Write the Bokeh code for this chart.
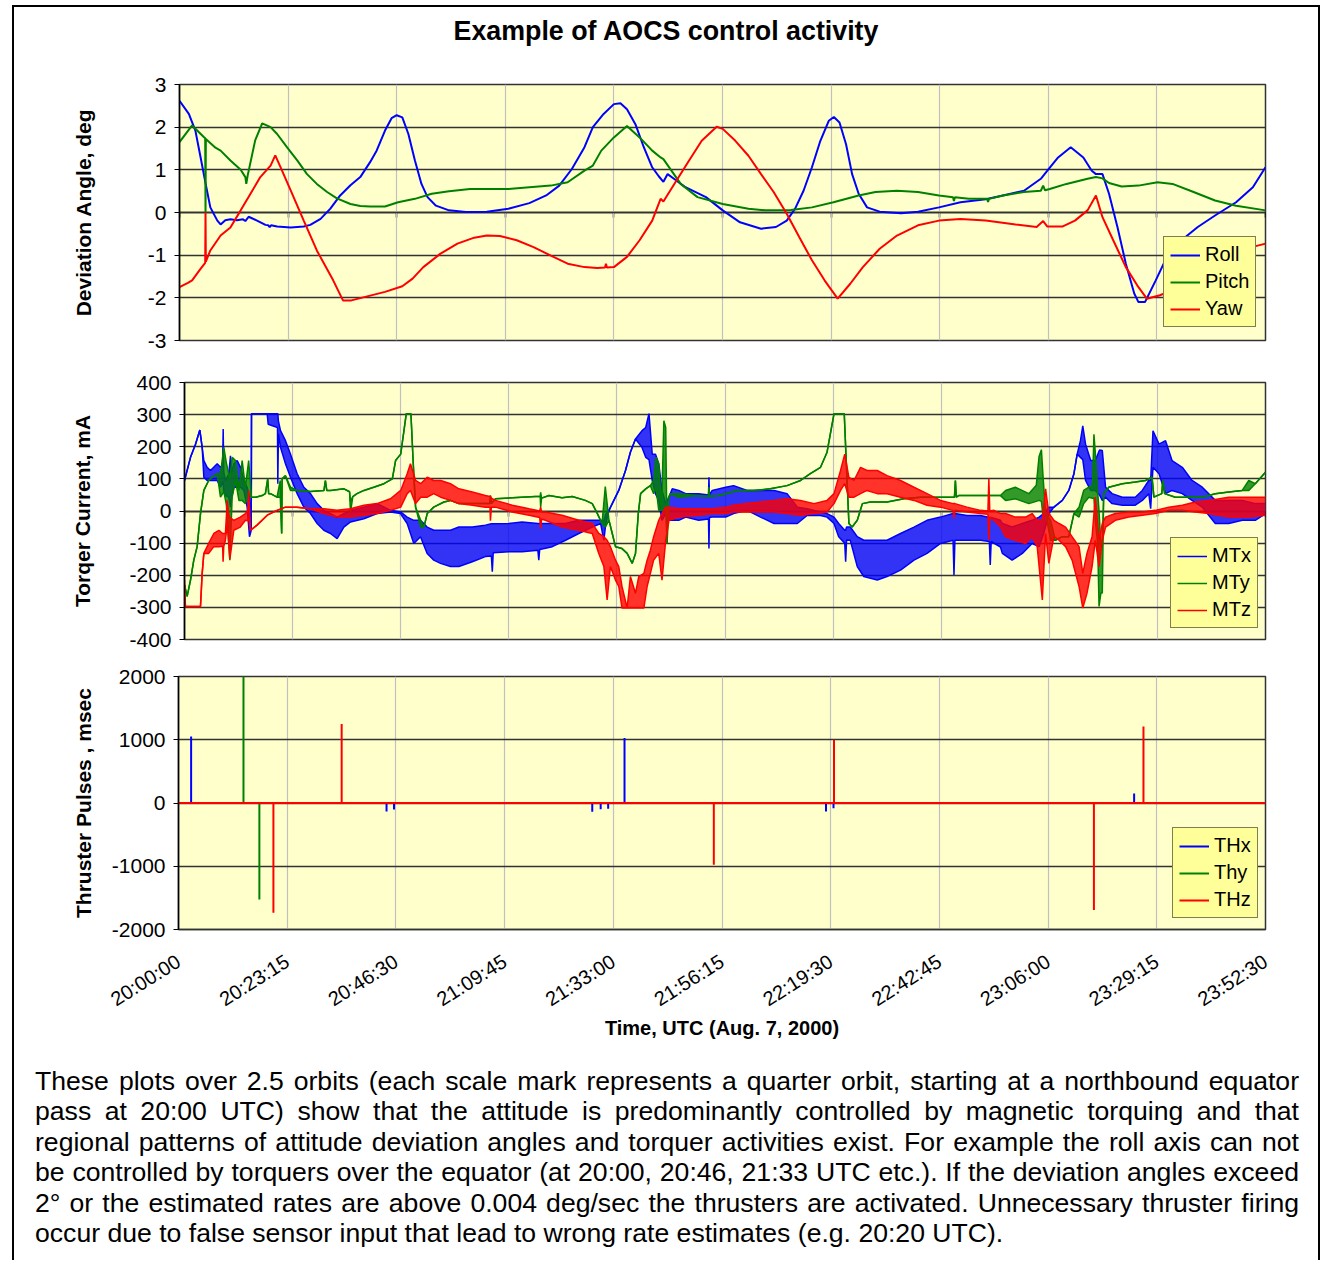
import numpy as np
from bokeh.plotting import figure
from bokeh.models import (Range1d, FixedTicker, CustomJSTickFormatter, Legend,
                          LegendItem, Div)
from bokeh.layouts import column
from bokeh.embed import file_html
from bokeh.resources import INLINE

# ---------------------------------------------------------------- data
TITLE = "Example of AOCS control activity"
X_LABEL = "Time, UTC (Aug. 7, 2000)"
Y_LABELS = ["Deviation Angle, deg", "Torqer Current, mA", "Thruster Pulses , msec"]
TIME_TICK_LABELS = ["20:00:00", "20:23:15", "20:46:30", "21:09:45", "21:33:00", "21:56:15",
                    "22:19:30", "22:42:45", "23:06:00", "23:29:15", "23:52:30"]
QUARTER_ORBIT_MIN = 23.25          # minutes between tick marks
TIME_END_MIN = 232.5

# --- deviation angles (minutes after 20:00, deg)
ROLL_T = [0, 2.0, 3.4, 4.5, 5.6, 6.6, 8.1, 8.8, 9.8, 10.9, 12.3, 13.6, 14.1, 14.8, 16.6, 18.4, 19.0,
          19.3, 19.6, 20.9, 23.8, 26.6, 28.0, 30.2, 32.3, 34.4, 36.6, 38.7, 40.8, 42.2, 44.0, 45.4,
          46.5, 47.7, 49.0, 50.4, 51.8, 53.1, 54.9, 57.7, 61.3, 65.8, 70.4, 74.9, 78.5, 81.3, 84.0,
          86.7, 88.5, 90.8, 93.0, 94.4, 95.8, 97.6, 99.4, 101.2, 102.6, 103.6, 104.5, 106.0, 108.2,
          112.7, 116.3, 120.0, 124.5, 127.7, 130.0, 131.8, 133.6, 135.4, 137.2, 139.0, 140.1, 141.3,
          142.7, 144.0, 145.4, 147.2, 149.9, 154.5, 158.1, 162.6, 167.2, 172.6, 176.3, 180.8, 184.4,
          185.8, 188.1, 190.8, 193.5, 195.3, 196.2, 197.6, 199.0, 200.8, 202.6, 204.4, 205.3, 206.7,
          209.0, 211.7, 215.3, 218.0, 221.7, 226.2, 229.8, 232.5]
ROLL_V = [2.62, 2.31, 1.92, 1.30, 0.67, 0.12, -0.19, -0.28, -0.18, -0.16, -0.18, -0.16, -0.20, -0.10,
          -0.19, -0.29, -0.30, -0.34, -0.30, -0.33, -0.35, -0.33, -0.29, -0.15, 0.09, 0.40, 0.64, 0.83,
          1.18, 1.45, 1.92, 2.21, 2.28, 2.23, 1.84, 1.22, 0.67, 0.36, 0.16, 0.05, 0.01, 0.02, 0.09,
          0.22, 0.40, 0.63, 1.02, 1.53, 2.00, 2.31, 2.54, 2.56, 2.42, 2.07, 1.53, 1.06, 0.85, 0.72,
          0.90, 0.78, 0.60, 0.36, 0.05, -0.23, -0.38, -0.34, -0.19, 0.09, 0.51, 1.06, 1.68, 2.15,
          2.24, 2.11, 1.60, 0.90, 0.44, 0.12, 0.02, -0.02, 0.02, 0.12, 0.24, 0.31, 0.40, 0.51, 0.79,
          0.98, 1.29, 1.53, 1.29, 0.98, 0.90, 0.90, 0.44, -0.34, -1.20, -1.90, -2.10, -2.10, -1.59,
          -0.97, -0.58, -0.34, -0.07, 0.24, 0.59, 1.06]

PITCH_T = [0, 2.7, 5.2, 5.5, 5.57, 5.64, 7.7, 8.8, 10.9, 13.1, 14.1, 14.3, 14.6, 16.2, 17.7, 19.5,
           20.9, 23.0, 25.2, 27.3, 29.4, 31.6, 33.7, 36.6, 38.7, 40.8, 44.0, 46.8, 50.4, 54.0, 57.7,
           62.2, 70.4, 74.9, 79.5, 83.1, 86.7, 88.5, 90.3, 93.0, 95.8, 98.5, 101.2, 103.0, 103.6,
           107.3, 110.9, 116.3, 121.8, 125.4, 130.9, 135.4, 140.0, 145.4, 149.0, 153.6, 158.1, 162.6,
           165.6, 165.8, 166.0, 169.0, 172.9, 173.1, 173.3, 176.3, 180.8, 184.4, 184.9, 185.3, 186.3,
           189.9, 194.4, 196.2, 197.6, 199.0, 201.7, 205.3, 209.4, 212.6, 217.1, 221.7, 226.2, 232.5]
PITCH_V = [1.65, 2.04, 1.77, 1.74, 0.0, 1.72, 1.52, 1.45, 1.22, 1.00, 0.83, 0.67, 0.87, 1.69, 2.09,
           2.00, 1.84, 1.53, 1.22, 0.90, 0.67, 0.48, 0.33, 0.20, 0.15, 0.14, 0.14, 0.24, 0.32, 0.44,
           0.50, 0.55, 0.55, 0.59, 0.63, 0.71, 0.98, 1.10, 1.45, 1.76, 2.03, 1.76, 1.45, 1.29, 1.25,
           0.67, 0.36, 0.20, 0.09, 0.05, 0.06, 0.12, 0.24, 0.40, 0.48, 0.51, 0.48, 0.40, 0.36, 0.27,
           0.36, 0.32, 0.32, 0.25, 0.32, 0.40, 0.48, 0.51, 0.63, 0.52, 0.55, 0.67, 0.79, 0.83, 0.80,
           0.69, 0.61, 0.63, 0.71, 0.67, 0.48, 0.28, 0.16, 0.05]

YAW_T = [0, 1.8, 2.7, 4.5, 5.5, 5.57, 5.64, 6.6, 8.8, 10.9, 13.1, 15.2, 17.3, 19.5, 20.5, 21.6, 23.8,
         26.6, 29.4, 32.9, 35.0, 36.8, 40.4, 44.0, 47.7, 49.9, 52.2, 55.8, 59.5, 63.1, 65.8, 68.6,
         72.2, 75.8, 79.5, 83.1, 86.7, 89.4, 91.1, 91.3, 91.5, 93.0, 95.8, 98.5, 101.2, 103.0, 103.6,
         106.4, 109.1, 111.8, 115.0, 116.3, 119.0, 121.8, 124.5, 127.2, 130.0, 132.7, 135.4, 138.1,
         140.9, 143.6, 146.3, 149.9, 153.6, 158.1, 162.6, 167.2, 172.6, 179.0, 183.5, 184.9, 185.8,
         189.0, 191.7, 194.4, 196.2, 197.6, 199.9, 202.6, 205.3, 207.1, 209.9, 212.6, 216.0, 220.0,
         225.0, 230.0, 232.5]
YAW_V = [-1.75, -1.65, -1.59, -1.32, -1.18, 0.0, -1.15, -0.89, -0.54, -0.35, 0.05, 0.44, 0.83, 1.10,
         1.34, 1.07, 0.52, -0.19, -0.89, -1.59, -2.06, -2.06, -1.96, -1.86, -1.73, -1.55, -1.28,
         -0.97, -0.73, -0.59, -0.54, -0.55, -0.65, -0.81, -1.01, -1.20, -1.28, -1.30, -1.29, -1.20,
         -1.29, -1.28, -1.04, -0.65, -0.19, 0.32, 0.26, 0.75, 1.22, 1.68, 2.01, 1.96, 1.68, 1.33, 0.90,
         0.48, -0.03, -0.58, -1.12, -1.59, -2.02, -1.67, -1.28, -0.85, -0.54, -0.30, -0.19, -0.15,
         -0.19, -0.28, -0.34, -0.20, -0.33, -0.33, -0.19, 0.05, 0.40, -0.11, -0.65, -1.28, -1.75,
         -2.02, -1.94, -1.82, -1.50, -1.20, -0.95, -0.80, -0.73]

# --- torquer currents (minutes, mA); HI / LO = envelope of the dense oscillation
MTX_T = [0, 1.29, 2.37, 3.30, 3.80, 4.16, 4.87, 5.59, 7.03, 7.74, 8.2, 8.32, 8.45, 8.82, 9.53, 9.89,
         10.1, 10.61, 11.33, 12.04, 12.76, 13.48, 13.98, 14.35, 14.41, 17.78, 18.0, 20.0, 20.07, 20.2,
         20.65, 21.72, 22.8, 24.23, 25.67, 27.1, 28.53, 29.97, 31.4, 32.83, 34.27, 35.7, 38.57, 41.44,
         44.3, 46.46, 47.89, 49.32, 50.76, 52.19, 53.62, 55.06, 57.21, 59.0, 61.9, 64.7, 66.0, 66.2,
         66.4, 69.76, 72.6, 76.0, 76.2, 76.4, 79.1, 81.95, 84.8, 87.7, 89.5, 90.2, 90.6, 91.3, 92.0,
         93.4, 94.85, 95.9, 97.0, 98.4, 99.2, 99.9, 100.6, 101.3, 102.0, 102.7, 103.5, 104.2, 104.9,
         106.3, 107.8, 110.6, 112.7, 112.8, 112.9, 113.5, 116.4, 118.1, 121.0, 123.9, 126.8, 129.6,
         131.8, 133.9, 136.8, 138.2, 139.7, 140.7, 142.0, 142.2, 142.4, 143.2, 144.7, 146.1, 149.0,
         151.1, 154.0, 156.9, 159.7, 162.6, 165.3, 165.5, 165.7, 168.3, 171.2, 173.1, 173.3, 173.5,
         175.5, 175.9, 178.0, 180.2, 182.3, 183.8, 184.8, 185.9, 187.0, 188.8, 190.2, 191.3, 192.0,
         192.7, 193.2, 193.8, 194.9, 195.9, 196.8, 197.4, 198.1, 199.5, 201.7, 204.5, 206.0, 207.4,
         207.8, 208.3, 209.6, 211.0, 212.4, 214.6, 216.7, 218.9, 221.7, 224.6, 227.5, 230.3, 232.5]
MTX_HI = [95, 167, 208, 252, 198, 157, 136, 126, 147, 136, 140, 255, 120, 95, 116, 172, 120, 147, 157,
          136, 95, 74, 40, -60, 303, 303, 303, 303, 303, 280, 250, 219, 177, 116, 74, 54, 23, 2, -8,
          -19, -8, 2, 12, 23, 2, -3, -19, -29, -29, -50, -60, -60, -60, -50, -50, -44, -40, -40, -40,
          -39, -34, -39, -39, -39, -39, -39, -29, -29, -29, -30, -10, 2, 23, 64, 126, 183, 224, 250,
          260, 303, 177, 177, 147, 64, 23, 43, 69, 64, 54, 54, 50, 105, 50, 64, 74, 79, 64, 64, 64,
          54, 12, 7, -3, -8, -19, -39, -60, -60, -50, -50, -80, -91, -91, -91, -70, -50, -29, -19, -8,
          -8, -8, -14, -14, -20, -20, -20, -29, -39, -50, -39, -29, -19, -8, 12, 12, 33, 64, 116, 177,
          219, 265, 208, 157, 157, 190, 188, 74, 54, 43, 43, 64, 95, 95, 250, 208, 219, 157, 136, 95,
          74, 33, 33, 33, 23, 23]
MTX_LO = [95, 167, 208, 252, 198, 105, 95, 95, 95, 74, 90, 90, 60, 48, 43, 12, 40, 74, 74, 74, 64, 12,
          -80, -60, 303, 303, 270, 260, 85, 240, 198, 147, 105, 54, 12, -8, -39, -60, -70, -86, -50,
          -34, -24, -8, -3, -8, -39, -101, -80, -132, -153, -163, -173, -173, -158, -142, -140, -189,
          -130, -127, -127, -122, -153, -120, -111, -91, -70, -50, -39, -91, -40, 2, 23, 64, 126, 183,
          224, 198, 167, 160, 95, 54, 33, -29, -8, -29, -29, -29, -19, -29, -25, -117, -20, -19, -19,
          -8, 2, -19, -39, -39, -39, -14, -14, -19, -39, -80, -100, -158, -90, -91, -173, -204, -215,
          -204, -184, -153, -132, -101, -91, -199, -91, -91, -91, -95, -168, -95, -112, -132, -153,
          -132, -101, -111, -70, -8, 12, 33, 64, 116, 177, 167, 160, 95, 64, 64, 50, 33, 43, 23, 18,
          18, 33, 54, 7, 136, 116, 54, 64, 54, 33, 12, -39, -39, -29, -29, -8]

MTY_T = [0, 0.57, 1.29, 2.0, 2.72, 3.44, 4.16, 5.2, 5.95, 7.03, 7.74, 8.46, 9.0, 9.75, 10.25, 10.97,
         11.7, 12.4, 13.1, 13.8, 14.4, 15.3, 16.7, 17.4, 17.9, 18.1, 18.5, 19.9, 20.6, 20.9, 21.0, 21.7,
         22.8, 24.2, 27.1, 30.0, 30.3, 30.6, 31.4, 34.3, 35.5, 35.7, 36.2, 37.1, 38.6, 40.7, 42.9,
         44.7, 45.4, 46.5, 47.2, 47.7, 48.7, 49.2, 49.7, 50.8, 51.5, 52.2, 53.6, 55.8, 57.2, 59.0,
         63.3, 65.7, 65.8, 66.0, 66.9, 70.5, 75.5, 76.5, 76.6, 76.8, 78.4, 81.2, 83.4, 86.2, 87.7,
         88.8, 89.8, 90.5, 91.3, 92.0, 92.7, 94.1, 95.2, 96.3, 97.0, 97.6, 98.1, 99.2, 100.2, 100.9,
         101.4, 102.0, 102.6, 103.1, 103.5, 103.8, 104.1, 104.5, 106.3, 109.9, 112.7, 112.8, 112.9,
         114.9, 116.4, 118.9, 122.5, 126.0, 129.6, 132.5, 134.6, 136.8, 138.2, 138.9, 139.7, 141.9,
         142.2, 142.9, 143.6, 144.7, 145.8, 147.5, 151.1, 154.7, 158.3, 162.6, 165.6, 165.8, 166.0,
         166.5, 169.8, 172.6, 175.5, 176.6, 178.7, 181.6, 183.2, 183.8, 184.3, 184.6, 185.2, 186.3,
         187.3, 188.8, 190.2, 191.3, 192.4, 193.4, 194.5, 195.3, 195.6, 195.9, 196.4, 196.7, 197.1,
         197.4, 197.7, 198.8, 201.7, 204.5, 206.7, 208.1, 208.5, 209.2, 210.2, 210.4, 210.8, 213.1,
         216.0, 218.9, 221.7, 224.6, 227.5, 228.9, 230.3, 232.5]
MTY_HI = [-230, -266, -215, -153, -111, -8, 64, 95, 105, 116, 116, 198, 150, 100, 167, 157, 64, 157,
          74, 157, 43, 43, 48, 54, 100, 54, 54, 43, 95, -70, 100, 110, 74, 64, 61, 64, 95, 64, 64, 69,
          60, 30, 45, 54, 64, 74, 85, 100, 157, 177, 250, 303, 303, 147, 12, -29, -50, -8, 12, 28, 33,
          23, 23, 23, 48, 23, 38, 41, 45, 45, 58, 40, 48, 41, 45, 33, 23, -8, -39, 76, -29, -70, -111,
          -117, -132, -163, -132, -8, 54, 69, 79, 95, 167, 147, 2, 281, 260, -101, 40, 54, 54, 48, 45,
          74, 45, 48, 54, 64, 64, 69, 79, 95, 116, 136, 183, 239, 303, 303, 198, -39, -50, -29, 23, 28,
          28, 38, 43, 43, 43, 95, 43, 48, 48, 48, 48, 64, 74, 54, 80, 170, 191, 120, -8, -29, -91, -80,
          -80, -8, 12, 64, 74, 80, 239, 180, 60, 0, -110, -110, 54, 74, 85, 90, 95, 105, 43, 48, 54, 95,
          54, 43, 43, 43, 54, 59, 64, 95, 85, 121]
MTY_LO = [-230, -266, -215, -153, -111, -8, 64, 95, 105, 116, 43, 60, 20, -153, 43, 95, 33, 33, 23, 54,
          43, 43, 48, 54, 100, 54, 54, 43, 43, -70, 100, 110, 64, 64, 61, 64, 95, 64, 64, 69, 60, -5, 45,
          54, 64, 74, 85, 100, 157, 177, 250, 303, 303, 147, 12, -50, -50, -8, 12, 28, 33, 23, 23, 23,
          48, 23, 38, 41, 45, 45, 12, 40, 48, 41, 45, 33, 23, -8, -39, -50, -29, -70, -111, -117, -132,
          -163, -132, -8, 54, 69, 79, 54, 74, 2, 2, 2, 0, -101, 40, 54, 43, 48, 45, 74, 45, 48, 54, 64,
          64, 69, 79, 95, 116, 136, 183, 239, 303, 303, 198, -39, -50, -29, 23, 28, 28, 38, 43, 43, 43,
          95, 43, 48, 48, 48, 48, 33, 38, 23, 30, 33, 30, -10, -8, -91, -91, -80, -80, -8, -19, 23, 43,
          40, 40, -29, -100, -297, -255, -255, 54, 74, 85, 90, 95, 105, 43, 48, 54, 95, 54, 43, 43, 43,
          54, 59, 64, 64, 85, 121]

MTZ_T = [0, 0.2, 3.44, 3.8, 4.16, 5.2, 6.3, 7.4, 8.2, 8.3, 8.45, 8.8, 9.2, 9.5, 9.75, 10.6, 12.0, 13.1,
         13.6, 13.8, 14.2, 15.6, 17.8, 19.9, 21.7, 24.2, 27.1, 30.0, 32.8, 35.7, 38.6, 41.4, 44.3, 46.5,
         47.9, 48.6, 49.7, 50.8, 52.2, 53.6, 55.1, 57.2, 59.0, 61.9, 64.7, 65.7, 65.8, 66.0, 66.9, 70.5,
         74.1, 76.4, 76.6, 76.8, 77.6, 81.2, 84.8, 87.7, 89.1, 90.2, 90.9, 91.6, 92.7, 93.4, 94.1, 95.2,
         95.9, 97.0, 97.7, 98.8, 99.5, 100.2, 100.9, 102.0, 102.7, 103.5, 104.2, 106.3, 110.6, 113.5,
         116.4, 118.1, 121.0, 123.9, 126.8, 129.6, 132.5, 135.4, 138.2, 139.7, 141.1, 142.0, 142.9,
         144.0, 145.4, 146.8, 149.0, 151.1, 154.0, 156.9, 159.7, 162.6, 165.3, 165.5, 165.7, 168.3,
         171.2, 172.8, 173.0, 173.2, 174.1, 175.5, 176.6, 178.7, 180.9, 182.3, 183.4, 184.5, 185.2,
         185.9, 187.0, 188.1, 189.5, 190.9, 192.4, 193.2, 194.1, 195.2, 195.9, 196.7, 197.4, 198.1,
         200.2, 203.1, 206.0, 208.8, 211.7, 214.6, 217.4, 220.3, 224.6, 228.9, 232.5]
MTZ_HI = [-215, -297, -297, -194, -132, -101, -70, -60, -70, -70, -70, -70, 33, -10, -20, -29, -19, -8,
          0, 64, -60, -44, -13, 2, 12, 12, 7, 7, 2, 7, 18, 23, 38, 64, 116, 147, 95, 85, 105, 95, 95, 85,
          69, 59, 48, 45, 45, 40, 33, 18, 7, 0, 12, -3, -3, -13, -29, -39, -70, -80, -91, -111, -153,
          -173, -235, -302, -204, -256, -204, -194, -153, -122, -80, -29, -8, 12, 12, 7, 7, 7, 12, 18,
          23, 28, 33, 38, 33, 23, 33, 54, 126, 177, 105, 95, 136, 126, 126, 110, 95, 74, 54, 33, 23, 23,
          23, 12, 2, 0, 100, 0, 2, -8, -8, -19, -19, -8, -29, -29, 69, -8, -29, -39, -50, -80, -111,
          -194, -132, -80, 43, -91, -39, -19, -8, -3, -3, 2, 12, 18, 28, 33, 43, 43, 43]
MTZ_LO = [-256, -297, -297, -194, -132, -132, -111, -111, -110, -158, -110, -91, -40, -100, -150, -60,
          -50, -29, -30, -20, -60, -44, -13, 2, 12, 12, 7, -8, -19, -19, -13, -8, 2, 12, 54, 64, 23, 43,
          43, 54, 43, 33, 23, 18, 12, 12, -30, 12, 12, -3, -13, -20, -55, -25, -29, -50, -60, -70, -132,
          -173, -277, -173, -215, -235, -302, -302, -302, -302, -302, -302, -235, -194, -153, -132, -215,
          -91, -29, -19, -13, -8, -8, -3, -3, -3, -3, -8, -13, -8, -3, 23, 64, 85, 43, 43, 54, 64, 54,
          54, 43, 33, 18, 12, 2, -23, 2, -3, -8, -10, -91, -20, -29, -50, -80, -91, -101, -80, -111,
          -277, -70, -163, -80, -91, -111, -153, -235, -302, -256, -173, -91, -173, -91, -50, -29, -19,
          -13, -8, 2, 2, -3, -8, -19, -19, -13]

# --- thruster pulses (minutes, msec)
THX_T = [2.7, 44.5, 46.1, 88.5, 90.3, 91.9, 95.4, 138.5, 140.1, 204.4]
THX_V = [1050, -135, -104, -140, -100, -90, 1026, -135, -83, 151]
THY_T = [13.9, 17.3]
THY_V = [2026, -1526]
THZ_T = [20.3, 34.9, 114.5, 140.2, 195.8, 206.4]
THZ_V = [-1734, 1250, -977, 1000, -1693, 1208]

PARAGRAPH_LINES = [
    "These plots over 2.5 orbits (each scale mark represents a quarter orbit, starting at a northbound equator",
    "pass at 20:00 UTC) show that the attitude is predominantly controlled by magnetic torquing and that",
    "regional patterns of attitude deviation angles and torquer activities exist. For example the roll axis can not",
    "be controlled by torquers over the equator (at 20:00, 20:46, 21:33 UTC etc.). If the deviation angles exceed",
    "2\u00b0 or the estimated rates are above 0.004 deg/sec the thrusters are activated. Unnecessary thruster firing",
    "occur due to false sensor input that lead to wrong rate estimates (e.g. 20:20 UTC).",
]

# ---------------------------------------------------------------- style
FONT = "Liberation Sans"
BLUE, GREEN, RED = "#0000FF", "#008000", "#FF0000"
PLOT_BG = "#FFFFCC"
LEGEND_BG = "#FFFF99"
COL_W = 1304
RIGHT_B = 53

time_ticks = [i * QUARTER_ORBIT_MIN for i in range(len(TIME_TICK_LABELS))]
plain_numbers = "return tick.toFixed(0);"


def make_fig(height, left, top, bottom, yr, ystep):
    p = figure(width=COL_W, height=height, output_backend="svg", toolbar_location=None,
               x_range=Range1d(0, TIME_END_MIN), y_range=Range1d(*yr),
               min_border_left=left, min_border_right=RIGHT_B,
               min_border_top=top, min_border_bottom=bottom, frame_align=False,
               background_fill_color=PLOT_BG, border_fill_color="white")
    p.outline_line_color = "#333333"
    p.outline_line_width = 1.5
    p.xaxis.ticker = FixedTicker(ticks=time_ticks)
    p.xgrid.ticker = FixedTicker(ticks=time_ticks)
    p.xgrid.grid_line_color = "#C0C0C0"
    p.xgrid.grid_line_width = 1.2
    yt = list(np.arange(yr[0], yr[1] + ystep / 2, ystep))
    p.yaxis.ticker = FixedTicker(ticks=yt)
    p.ygrid.ticker = FixedTicker(ticks=yt)
    p.ygrid.grid_line_color = "#333333"
    p.ygrid.grid_line_width = 1.5
    p.yaxis.formatter = CustomJSTickFormatter(code=plain_numbers)
    p.yaxis.axis_line_color = "black"
    p.yaxis.axis_line_width = 1.5
    p.yaxis.major_tick_out = 5
    p.yaxis.major_tick_in = 0
    p.yaxis.minor_tick_line_color = None
    p.yaxis.major_label_text_font = FONT
    p.yaxis.major_label_text_font_size = "21px"
    p.yaxis.major_label_text_color = "black"
    p.yaxis.major_label_standoff = 8
    p.yaxis.axis_label_text_font = FONT
    p.yaxis.axis_label_text_font_size = "21px"
    p.yaxis.axis_label_text_font_style = "bold"
    p.yaxis.axis_label_text_color = "black"
    p.xaxis.minor_tick_line_color = None
    return p


def hide_x_labels(p):
    # Excel style category axis crossing at zero, tick marks only
    p.xaxis.fixed_location = 0
    p.xaxis.formatter = CustomJSTickFormatter(code="return '';")
    p.xaxis.axis_line_color = "black"
    p.xaxis.axis_line_width = 1.5
    p.xaxis.major_tick_out = 5
    p.xaxis.major_tick_in = 0
    p.xaxis.major_tick_line_width = 1.5
    p.xaxis.level = "underlay"


def add_legend(p, items, loc):
    lg = Legend(items=items, location=loc, background_fill_color=LEGEND_BG,
                background_fill_alpha=1.0, border_line_color="black", border_line_width=1.5,
                label_text_font=FONT, label_text_font_size="20px", label_text_color="black",
                glyph_width=30, glyph_height=20, label_height=20, label_standoff=5,
                padding=6, spacing=4, margin=0)
    p.add_layout(lg)


# ---------------------------------------------------------------- title
title_div = Div(text=(f'<div style="width:{COL_W}px;height:48px;line-height:48px;text-align:center;'
                      'font-family:\'Liberation Sans\',Arial,sans-serif;font-size:26.8px;'
                      f'font-weight:bold;color:#000;">{TITLE}</div>'),
                width=COL_W, height=50, margin=0)

# ---------------------------------------------------------------- top: deviation angles
p1 = make_fig(303, 165, 27, 20, (-3, 3), 1)
p1.yaxis.axis_label = Y_LABELS[0]
p1.yaxis.axis_label_standoff = 50
hide_x_labels(p1)
r_roll = p1.line(ROLL_T, ROLL_V, color=BLUE, line_width=2)
r_pitch = p1.line(PITCH_T, PITCH_V, color=GREEN, line_width=2)
r_yaw = p1.line(YAW_T, YAW_V, color=RED, line_width=2)
add_legend(p1, [LegendItem(label="Roll", renderers=[r_roll]),
                LegendItem(label="Pitch", renderers=[r_pitch]),
                LegendItem(label="Yaw", renderers=[r_yaw])], (984, 13))

# ---------------------------------------------------------------- middle: torquer currents
p2 = make_fig(296, 170, 22, 17, (-400, 400), 100)
p2.yaxis.axis_label = Y_LABELS[1]
p2.yaxis.axis_label_standoff = 32
hide_x_labels(p2)
mt_items = []
for name, t, hi, lo, col in [("MTx", MTX_T, MTX_HI, MTX_LO, BLUE),
                             ("MTy", MTY_T, MTY_HI, MTY_LO, GREEN),
                             ("MTz", MTZ_T, MTZ_HI, MTZ_LO, RED)]:
    p2.varea(x=t, y1=lo, y2=hi, fill_color=col, fill_alpha=0.8)
    p2.line(t, lo, color=col, line_width=1.5)
    r = p2.line(t, hi, color=col, line_width=1.5)
    mt_items.append(LegendItem(label=name, renderers=[r]))
add_legend(p2, mt_items, (986, 11))

# ---------------------------------------------------------------- bottom: thruster pulses
p3 = make_fig(394, 164, 20, 121, (-2000, 2000), 1000)
p3.yaxis.axis_label = Y_LABELS[2]
p3.yaxis.axis_label_standoff = 14
p3.xaxis.axis_label = X_LABEL
p3.xaxis.axis_label_text_font = FONT
p3.xaxis.axis_label_text_font_size = "20px"
p3.xaxis.axis_label_text_font_style = "bold"
p3.xaxis.axis_label_text_color = "black"
p3.xaxis.axis_label_standoff = -5
p3.xaxis.formatter = CustomJSTickFormatter(args=dict(labels=TIME_TICK_LABELS, step=QUARTER_ORBIT_MIN),
                                           code="return labels[Math.round(tick / step)] || '';")
p3.xaxis.major_label_orientation = 0.56
p3.xaxis.major_label_text_font = FONT
p3.xaxis.major_label_text_font_size = "20px"
p3.xaxis.major_label_text_color = "black"
p3.xaxis.major_label_standoff = 30
p3.xaxis.major_tick_out = 0
p3.xaxis.major_tick_in = 0
p3.xaxis.axis_line_color = "#333333"
p3.xaxis.axis_line_width = 1.5


def pulse_line(times, values):
    xs, ys = [0.0], [0.0]
    for t, v in sorted(zip(times, values)):
        xs += [t, t, t]
        ys += [0.0, v, 0.0]
    xs.append(TIME_END_MIN)
    ys.append(0.0)
    return xs, ys


th_items = []
for name, t, v, col in [("THx", THX_T, THX_V, BLUE), ("Thy", THY_T, THY_V, GREEN),
                        ("THz", THZ_T, THZ_V, RED)]:
    xs, ys = pulse_line(t, v)
    r = p3.line(xs, ys, color=col, line_width=2)
    th_items.append(LegendItem(label=name, renderers=[r]))
add_legend(p3, th_items, (994, 11))

# ---------------------------------------------------------------- paragraph
rows = []
for i, line in enumerate(PARAGRAPH_LINES):
    align = "left" if i == len(PARAGRAPH_LINES) - 1 else "justify"
    rows.append(f'<div style="white-space:nowrap;text-align:{align};text-align-last:{align};">{line}</div>')
html = ('<div style="font-family:\'Liberation Sans\',Arial,sans-serif;font-size:26.6px;line-height:30.4px;'
        'color:#000;padding-top:16px;margin-left:21px;width:1264px;">' + "".join(rows) + '</div>')
para = Div(text=html, width=COL_W, height=212, margin=0)

layout = column(title_div, p1, p2, p3, para, margin=(7, 0, 0, 14),
                styles={"box-shadow": "-2px -2px 0 0 #000, 2px -2px 0 0 #000"})

with open("out.html", "w", encoding="utf-8") as f:
    f.write(file_html(layout, INLINE, title="AOCS control activity"))
